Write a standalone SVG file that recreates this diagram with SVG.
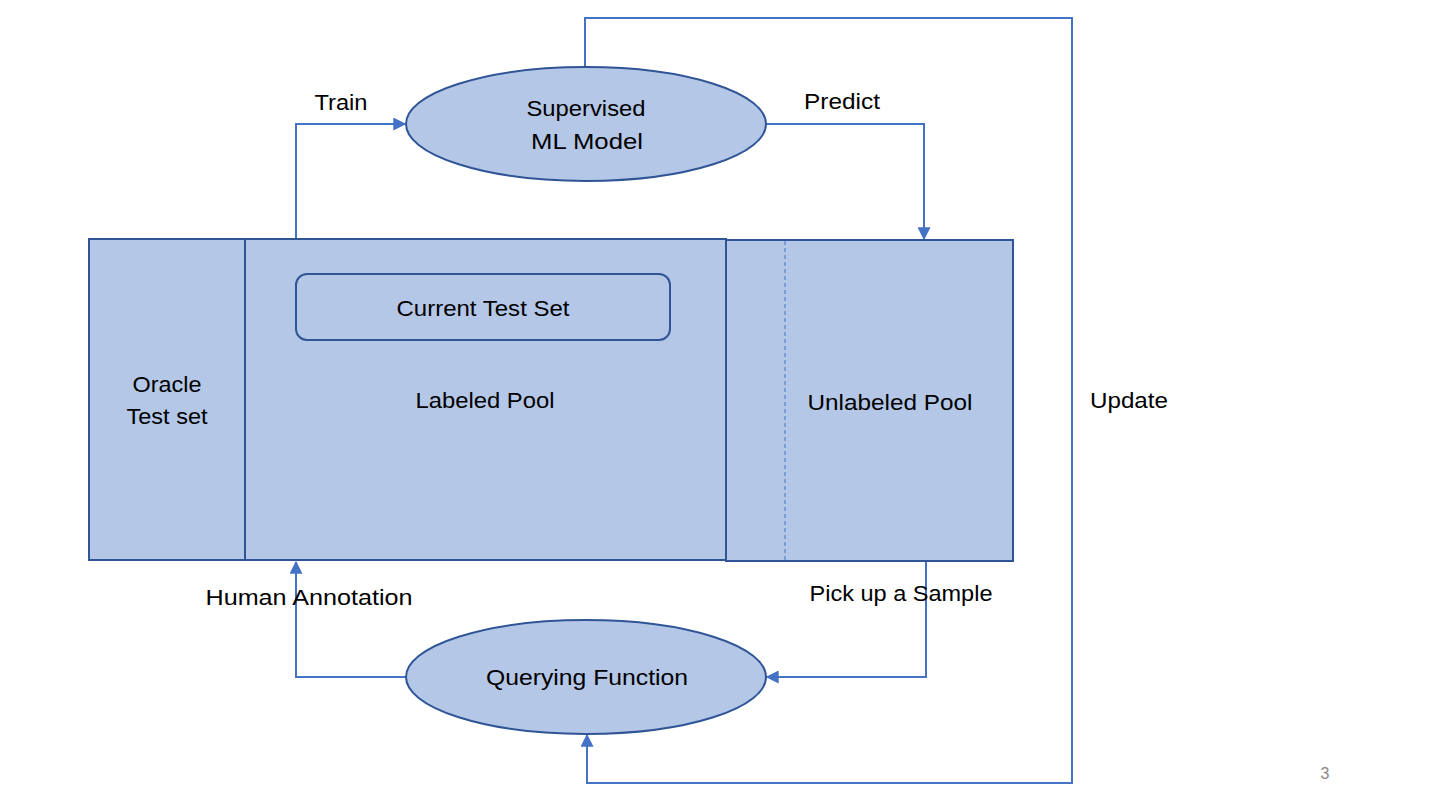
<svg xmlns="http://www.w3.org/2000/svg" width="1440" height="810" viewBox="0 0 1440 810">
<style>
.shape{fill:#B4C7E7;stroke:#2F5597;stroke-width:2}
.conn{fill:none;stroke:#4472C4;stroke-width:2}
.lbl{font-family:"Liberation Sans",Arial,sans-serif;font-size:22px;fill:#000;text-anchor:middle}
</style>
<defs>
<marker id="arr" viewBox="0 0 10 10" refX="9" refY="5" markerWidth="6.5" markerHeight="6.5" orient="auto" markerUnits="strokeWidth">
<path d="M0,0 L10,5 L0,10 z" fill="#4472C4"/>
</marker>
</defs>
<rect width="1440" height="810" fill="#fff"/>
<g id="connectors">
<polyline class="conn" points="296,239 296,124 405,124" marker-end="url(#arr)"/>
<polyline class="conn" points="766,124 924,124 924,239" marker-end="url(#arr)"/>
<polyline class="conn" points="585,67 585,18 1072,18 1072,783 587,783 587,735" marker-end="url(#arr)"/>
<polyline class="conn" points="926,561 926,677 767,677" marker-end="url(#arr)"/>
<polyline class="conn" points="406,677 296,677 296,562" marker-end="url(#arr)"/>
<line class="conn" x1="726" y1="401" x2="784" y2="400" marker-end="url(#arr)"/>
</g>
<g id="labeled-pool">
<rect class="shape" x="89" y="239" width="637" height="321"/>
<line x1="245" y1="239" x2="245" y2="560" stroke="#2F5597" stroke-width="2"/>
<text class="lbl" x="485" y="408" textLength="139" lengthAdjust="spacingAndGlyphs">Labeled Pool</text>
</g>
<g id="oracle-test-set">
<text class="lbl" x="167" y="392" textLength="69" lengthAdjust="spacingAndGlyphs">Oracle</text>
<text class="lbl" x="167" y="424" textLength="81" lengthAdjust="spacingAndGlyphs">Test set</text>
</g>
<g id="current-test-set">
<rect class="shape" x="296" y="274" width="374" height="66" rx="11"/>
<text class="lbl" x="483" y="316" textLength="173" lengthAdjust="spacingAndGlyphs">Current Test Set</text>
</g>
<g id="unlabeled-pool">
<rect class="shape" x="726" y="240" width="287" height="321"/>
<line x1="785" y1="241" x2="785" y2="560" stroke="#4472C4" stroke-width="1" stroke-dasharray="4,3"/>
<text class="lbl" x="890" y="410" textLength="165" lengthAdjust="spacingAndGlyphs">Unlabeled Pool</text>
</g>
<g id="supervised-ml-model">
<ellipse class="shape" cx="586" cy="124" rx="180" ry="57"/>
<text class="lbl" x="586" y="116" textLength="119" lengthAdjust="spacingAndGlyphs">Supervised</text>
<text class="lbl" x="587" y="149" textLength="112" lengthAdjust="spacingAndGlyphs">ML Model</text>
</g>
<g id="querying-function">
<ellipse class="shape" cx="586" cy="677" rx="180" ry="57"/>
<text class="lbl" x="587" y="685" textLength="202" lengthAdjust="spacingAndGlyphs">Querying Function</text>
</g>
<g id="edge-labels">
<text class="lbl" x="341" y="110" textLength="53" lengthAdjust="spacingAndGlyphs">Train</text>
<text class="lbl" x="842" y="109" textLength="76" lengthAdjust="spacingAndGlyphs">Predict</text>
<text class="lbl" x="1129" y="408" textLength="78" lengthAdjust="spacingAndGlyphs">Update</text>
<text class="lbl" x="901" y="601" textLength="183" lengthAdjust="spacingAndGlyphs">Pick up a Sample</text>
<text class="lbl" x="309" y="605" textLength="207" lengthAdjust="spacingAndGlyphs">Human Annotation</text>
</g>
<text x="1325" y="779" font-family="Liberation Sans,Arial,sans-serif" font-size="16" fill="#888" text-anchor="middle">3</text>
</svg>
